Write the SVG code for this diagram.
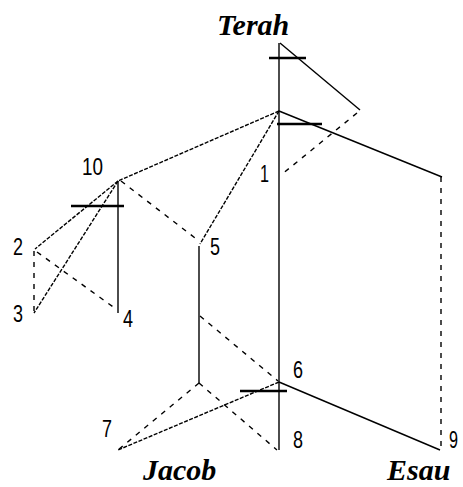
<svg xmlns="http://www.w3.org/2000/svg" width="463" height="487" viewBox="0 0 463 487">
<style>
.s{stroke:#000;stroke-width:1.4;fill:none}
.f{stroke:#000;stroke-width:1.4;fill:none;stroke-dasharray:4 1.5}
.d{stroke:#000;stroke-width:1.4;fill:none;stroke-dasharray:5 6}
.t{stroke:#000;stroke-width:2.6;fill:none}
.n{font-family:"Liberation Sans",Arial,sans-serif;font-size:24px;fill:#000}
.l{font-family:"Liberation Serif","Times New Roman",serif;font-style:italic;font-weight:bold;font-size:30px;fill:#000}
</style>
<rect width="463" height="487" fill="#fff"/>
<g id="connectors">
<line class="s" x1="279" y1="43" x2="279" y2="450"/>
<line class="s" x1="280" y1="43" x2="360" y2="110"/>
<line class="d" x1="357" y1="113" x2="281" y2="175"/>
<line class="s" x1="279" y1="111" x2="442" y2="177"/>
<line class="d" x1="441" y1="177" x2="441" y2="448"/>
<line class="f" x1="279" y1="111" x2="118" y2="181"/>
<line class="f" x1="279" y1="111" x2="200" y2="244"/>
<line class="s" x1="118" y1="181" x2="118" y2="313"/>
<line class="d" x1="121" y1="181" x2="199" y2="241"/>
<line class="f" x1="118" y1="181" x2="35" y2="249"/>
<line class="f" x1="118" y1="181" x2="34" y2="313"/>
<line class="d" x1="37" y1="252" x2="116" y2="309"/>
<line class="d" x1="34" y1="251" x2="34" y2="312"/>
<line class="s" x1="199" y1="246" x2="199" y2="383"/>
<line class="d" x1="200" y1="316" x2="278" y2="381"/>
<line class="d" x1="199" y1="383" x2="118" y2="450"/>
<line class="d" x1="199" y1="383" x2="277" y2="450"/>
<line class="f" x1="279" y1="382" x2="118" y2="450"/>
<line class="s" x1="279" y1="382" x2="440" y2="450"/>
<line class="t" x1="269" y1="58" x2="306" y2="58"/>
<line class="t" x1="277" y1="124" x2="322" y2="124"/>
<line class="t" x1="71" y1="206" x2="124" y2="206"/>
<line class="t" x1="240" y1="391" x2="287" y2="391"/>
</g>
<g id="terah"><text class="l" x="217" y="35">Terah</text></g>
<g id="n1"><text class="n" x="260" y="182" textLength="9" lengthAdjust="spacingAndGlyphs">1</text></g>
<g id="n2"><text class="n" x="13" y="255" textLength="10" lengthAdjust="spacingAndGlyphs">2</text></g>
<g id="n3"><text class="n" x="13" y="322" textLength="10" lengthAdjust="spacingAndGlyphs">3</text></g>
<g id="n4"><text class="n" x="123" y="327" textLength="10" lengthAdjust="spacingAndGlyphs">4</text></g>
<g id="n5"><text class="n" x="210" y="255" textLength="10" lengthAdjust="spacingAndGlyphs">5</text></g>
<g id="n6"><text class="n" x="293" y="378" textLength="10" lengthAdjust="spacingAndGlyphs">6</text></g>
<g id="n7"><text class="n" x="102" y="437" textLength="10" lengthAdjust="spacingAndGlyphs">7</text></g>
<g id="n8"><text class="n" x="293" y="448" textLength="10" lengthAdjust="spacingAndGlyphs">8</text></g>
<g id="n9"><text class="n" x="449" y="448" textLength="9" lengthAdjust="spacingAndGlyphs">9</text></g>
<g id="n10"><text class="n" x="82" y="175" textLength="21" lengthAdjust="spacingAndGlyphs">10</text></g>
<g id="jacob"><text class="l" x="143" y="480">Jacob</text></g>
<g id="esau"><text class="l" x="387" y="480">Esau</text></g>
</svg>
